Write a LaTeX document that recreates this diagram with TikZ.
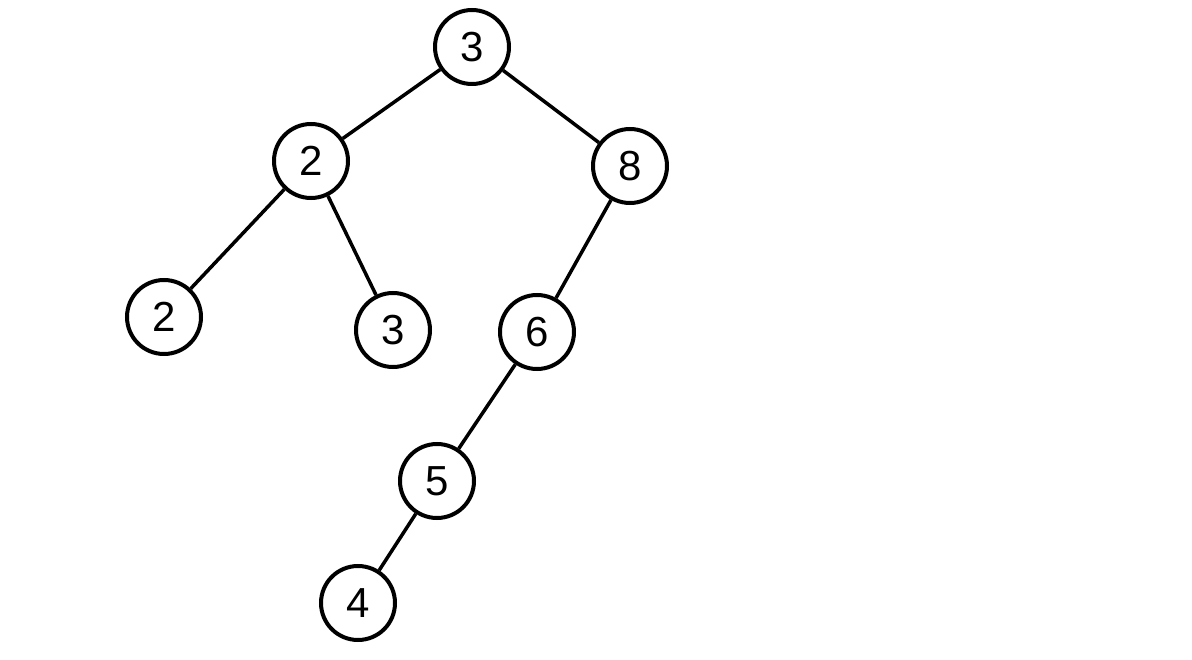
\documentclass[tikz,border=0pt]{standalone}
\usepackage{fontspec}
\setmainfont{Liberation Sans}
\begin{document}
\begin{tikzpicture}[x=1pt,y=-1pt,
  tnode/.style={circle,draw=black,line width=4pt,minimum size=74pt,inner sep=0pt,font=\fontsize{42}{44}\selectfont},
  tedge/.style={line width=3.5pt}]
\useasboundingbox (0,0) rectangle (1192,660);
\node[tnode] (a) at (472,47) {3};
\node[tnode] (b) at (311,161) {2};
\node[tnode] (c) at (630,166) {8};
\node[tnode] (d) at (164,317) {2};
\node[tnode] (e) at (393,330) {3};
\node[tnode] (f) at (537,332) {6};
\node[tnode] (g) at (437,481) {5};
\node[tnode] (h) at (358,603) {4};
\draw[tedge] (a) -- (b);
\draw[tedge] (a) -- (c);
\draw[tedge] (b) -- (d);
\draw[tedge] (b) -- (e);
\draw[tedge] (c) -- (f);
\draw[tedge] (f) -- (g);
\draw[tedge] (g) -- (h);
\end{tikzpicture}
\end{document}
